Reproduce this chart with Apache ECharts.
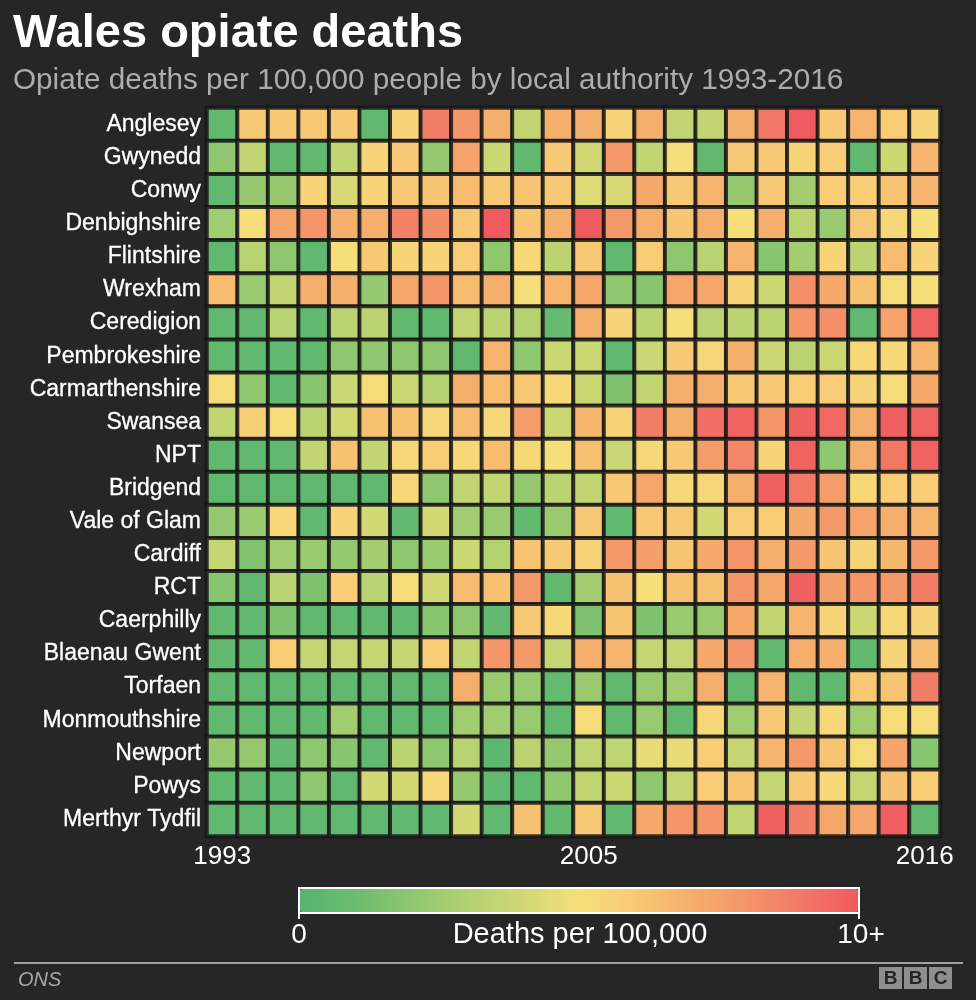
<!DOCTYPE html>
<html>
<head>
<meta charset="utf-8">
<script src="https://cdn.jsdelivr.net/npm/echarts@6/dist/echarts.min.js"></script>
<style>
html,body{margin:0;padding:0;background:#262626;}
#chart{width:976px;height:1000px;}
</style>
</head>
<body>
<div id="chart"></div>
<script>
const years = ['1993','1994','1995','1996','1997','1998','1999','2000','2001','2002','2003','2004','2005','2006','2007','2008','2009','2010','2011','2012','2013','2014','2015','2016'];
const yearLabelsShown = ['1993','2005','2016'];
const authorities = ['Anglesey','Gwynedd','Conwy','Denbighshire','Flintshire','Wrexham','Ceredigion','Pembrokeshire','Carmarthenshire','Swansea','NPT','Bridgend','Vale of Glam','Cardiff','RCT','Caerphilly','Blaenau Gwent','Torfaen','Monmouthshire','Newport','Powys','Merthyr Tydfil'];

// Deaths per 100,000 (estimated from colour), one array per authority
const anglesey        = [0.5,6,6,6,6,0.5,5.5,8.8,8,7,3.5,7,7,5.5,7,3.5,3.5,7,9,10,6,6.8,5.8,5.5];
const gwynedd         = [2,3.5,0.5,0.5,3.5,5.5,6,2.2,7.5,3.8,0.5,6,4,7.8,3.5,5,0.5,6,6,5.5,5.8,0.5,3.8,6.8];
const conwy           = [0.5,2.2,2.2,5.5,4.2,5.5,6,6.2,6.5,6,6.2,6,4.3,4.2,7.2,6,6.8,2.2,6,2.5,5.8,5.8,6.2,6.8];
const denbighshire    = [2.5,5,7.5,8,7,7,8.7,8.3,6,10,6.2,7,10,7.8,7,6.2,7,5,7,3.3,2.3,6,5.3,5];
const flintshire      = [0.5,3.2,2,0.5,5,6,5.5,5.5,5.8,2,5.3,3.3,6,0.5,5.8,2,3.2,6.8,1.8,2.5,5.5,3.3,6.5,5.5];
const wrexham         = [6.5,2.3,3.5,7,7,2.2,7.3,8,6.5,7,5,6.8,7.3,2,1.8,7.3,7.3,5.5,3.8,8.2,7.2,6.3,5.2,5];
const ceredigion      = [0.5,0.5,3.2,0.5,3.3,3.3,0.5,0.5,3.5,3.3,3,0.7,7,5.5,3.3,5,3.2,3.3,3.3,8,8.2,0.5,7.5,9.7];
const pembrokeshire   = [0.5,0.5,0.5,0.5,2,2,2,2,0.5,6.8,2,3.8,3.8,0.5,3.7,6,5.3,7,3.8,3.3,3.8,5.3,5.3,6.8];
const carmarthenshire = [5.2,2,0.5,1.8,3.8,5.2,3.8,3,7,6.5,6,5.3,3.8,1.5,3.5,7,7,6,6,5.8,5.8,5.5,5.2,7.2];
const swansea         = [3.5,5.7,5.2,3.3,4,6.3,6.3,5.3,6.5,5.3,7.7,3.8,6.7,5.5,8.8,7,9.3,9.7,8,9.8,9.5,7,9.8,9.7];
const npt             = [0.5,0.5,0.5,3.5,6.3,3.5,5.3,5.8,5.3,6.5,5.3,5,6.3,3.7,5.3,6,7.7,8.5,5.5,9.7,2,7,9,9.7];
const bridgend        = [0.5,0.5,0.5,0.5,0.5,0.5,5.3,2,3.5,3.5,2.2,3.3,3.5,6,7.3,5.3,5.3,7,9.8,9,7.7,5.3,5.8,5.8];
const valeOfGlam      = [2.2,2.3,5.3,0.5,5.5,4,0.5,4,2.5,2.3,0.6,2.3,6,0.5,6,6,4,5.8,5.8,7.2,7.8,7.5,7,6.8];
const cardiff         = [3.6,1.6,2.5,2.3,2.2,2.5,2,2.3,3.8,3,6.2,6,5.5,7.8,7.6,6.2,7.2,8,7,7.8,6.2,5.5,6.7,7.8];
const rct             = [1.8,0.5,3.2,1.5,5.8,3.2,5.2,4,6.5,6.3,7.8,0.5,2.5,6.3,5,6.3,6.3,8,7.3,9.8,7.6,8,7.8,8.8];
const caerphilly      = [0.5,0.5,1.5,0.5,0.5,0.5,0.5,1.8,2,0.6,6,5.3,1.5,6.2,1.5,2.3,2.3,7.2,3.5,6.8,5.5,3.8,5.3,5.5];
const blaenauGwent    = [0.6,0.6,5.8,3.6,3.6,3.6,3.6,5.8,3.5,8,7.8,3.6,7,6.8,3.6,3.6,7.2,8,0.5,7,7,0.5,5.5,6.5];
const torfaen         = [0.5,0.5,0.5,0.5,0.5,0.5,0.5,0.5,7,2.3,2.3,0.7,2.3,0.5,2.3,2.5,7,0.5,6.8,0.5,0.5,6,6.2,8.8];
const monmouthshire   = [0.5,0.5,0.5,0.5,2.5,0.5,0.5,0.5,2.5,2.5,2.3,0.5,5.2,0.5,2.3,0.5,5.3,2.5,6,3.5,5.3,2.5,5.2,5.2];
const newport         = [2.2,2.2,0.6,2,1.8,0.5,3.3,2,3.2,0.4,3.3,2.2,3.4,3.4,4.6,4.6,5.8,3.6,6.8,7.8,6.2,5.2,7.4,1.8];
const powys           = [0.5,0.5,0.5,2,0.5,4,4,5.3,2.2,0.5,0.5,2,3.5,3.8,2,3.6,5.8,6.2,3.6,6,5.3,3.6,6.3,5.8];
const merthyrTydfil   = [0.5,0.5,0.5,0.5,0.5,0.5,0.5,0.5,4,0.5,6.3,0.5,6,0.5,7.2,8,8,3.5,9.8,8.8,7.3,7.3,9.8,0.5];

const rows = [anglesey,gwynedd,conwy,denbighshire,flintshire,wrexham,ceredigion,pembrokeshire,carmarthenshire,swansea,npt,bridgend,valeOfGlam,cardiff,rct,caerphilly,blaenauGwent,torfaen,monmouthshire,newport,powys,merthyrTydfil];

const scaleColors = ['#55b46e','#6cbc6f','#8fc76f','#b3d171','#d1d874','#f6df7a','#f8c974','#f5af6c','#f4956a','#f27866','#ef5a5e'];

const cells = [];
rows.forEach((r, yi) => r.forEach((v, xi) => cells.push([xi, yi, v])));

const FONT = '"Liberation Sans", Arial, Helvetica, sans-serif';
const chart = echarts.init(document.getElementById('chart'), null, {renderer: 'canvas'});
chart.setOption({
  backgroundColor: '#262626',
  animation: false,
  title: {
    text: 'Wales opiate deaths',
    subtext: 'Opiate deaths per 100,000 people by local authority 1993-2016',
    left: 13, top: 11, itemGap: 8, padding: 0,
    textStyle: {fontFamily: FONT, fontSize: 47, fontWeight: 'bold', color: '#ffffff'},
    subtextStyle: {fontFamily: FONT, fontSize: 29.7, color: '#acacac'}
  },
  grid: {left: 207, right: 36, top: 108, bottom: 164, containLabel: false},
  xAxis: {
    type: 'category', data: years,
    axisLine: {show: false}, axisTick: {show: false}, splitLine: {show: false},
    axisLabel: {
      color: '#ffffff', fontFamily: FONT, fontSize: 26, margin: 8,
      interval: (i, v) => yearLabelsShown.indexOf(v) >= 0
    }
  },
  yAxis: {
    type: 'category', data: authorities, inverse: true,
    axisLine: {show: false}, axisTick: {show: false}, splitLine: {show: false},
    axisLabel: {color: '#ffffff', fontFamily: FONT, fontSize: 23, margin: 6, interval: 0,
      textBorderColor: '#ffffff', textBorderWidth: 0.3}
  },
  visualMap: {
    type: 'continuous', min: 0, max: 10, calculable: false, show: true,
    orient: 'horizontal', left: 300, top: 889, itemWidth: 23, itemHeight: 558,
    padding: 0, text: null, showLabel: false, hoverLink: false,
    inRange: {color: scaleColors}
  },
  series: [{
    type: 'heatmap', data: cells,
    itemStyle: {borderColor: 'rgba(22,22,22,0.85)', borderWidth: 4},
    emphasis: {disabled: true}
  }],
  graphic: [
    {type: 'rect', z: 100, shape: {x: 299, y: 888, width: 560, height: 25}, style: {fill: null, stroke: '#ffffff', lineWidth: 2}},
    {type: 'line', z: 100, shape: {x1: 299, y1: 888, x2: 299, y2: 919}, style: {stroke: '#ffffff', lineWidth: 2}},
    {type: 'line', z: 100, shape: {x1: 859, y1: 888, x2: 859, y2: 919}, style: {stroke: '#ffffff', lineWidth: 2}},
    {type: 'text', z: 100, x: 299, y: 935, style: {text: '0', fill: '#ffffff', font: '28px ' + FONT, align: 'center', verticalAlign: 'middle'}},
    {type: 'text', z: 100, x: 580, y: 935, style: {text: 'Deaths per 100,000', fill: '#ffffff', font: '29px ' + FONT, align: 'center', verticalAlign: 'middle'}},
    {type: 'text', z: 100, x: 861, y: 935, style: {text: '10+', fill: '#ffffff', font: '28px ' + FONT, align: 'center', verticalAlign: 'middle'}},
    {type: 'line', z: 100, shape: {x1: 14, y1: 963, x2: 963, y2: 963}, style: {stroke: '#a0a0a0', lineWidth: 2}},
    {type: 'text', z: 100, x: 18, y: 980, style: {text: 'ONS', fill: '#a8a8a8', font: 'italic 20px ' + FONT, align: 'left', verticalAlign: 'middle'}},
    {type: 'rect', z: 100, shape: {x: 879, y: 967, width: 23, height: 22}, style: {fill: '#8e8e8e'}},
    {type: 'rect', z: 100, shape: {x: 904, y: 967, width: 23, height: 22}, style: {fill: '#8e8e8e'}},
    {type: 'rect', z: 100, shape: {x: 929, y: 967, width: 23, height: 22}, style: {fill: '#8e8e8e'}},
    {type: 'text', z: 101, x: 890.5, y: 978.5, style: {text: 'B', fill: '#262626', font: 'bold 19px ' + FONT, align: 'center', verticalAlign: 'middle'}},
    {type: 'text', z: 101, x: 915.5, y: 978.5, style: {text: 'B', fill: '#262626', font: 'bold 19px ' + FONT, align: 'center', verticalAlign: 'middle'}},
    {type: 'text', z: 101, x: 940.5, y: 978.5, style: {text: 'C', fill: '#262626', font: 'bold 19px ' + FONT, align: 'center', verticalAlign: 'middle'}}
  ]
});
</script>
</body>
</html>
